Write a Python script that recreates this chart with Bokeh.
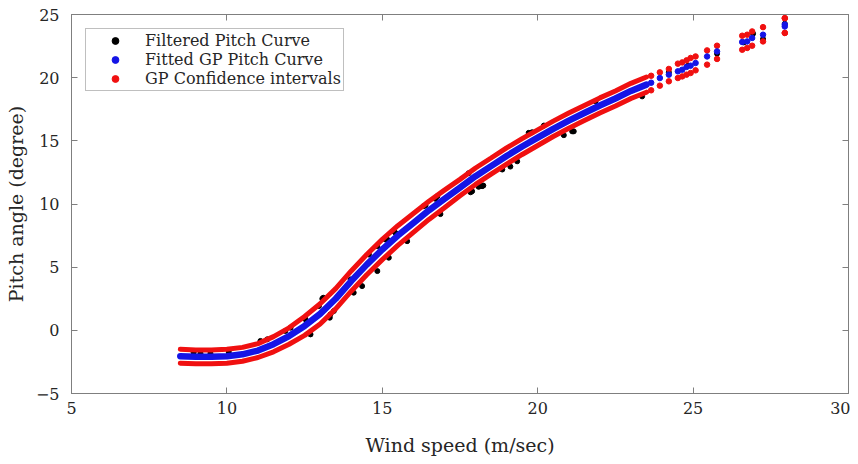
from bokeh.plotting import figure
from bokeh.models import Range1d, LinearAxis, FixedTicker, Legend, LegendItem
from bokeh.embed import file_html
from bokeh.resources import INLINE

# ---- data ----
# dense part of the fitted GP curve and its confidence band (wind speed m/s, pitch deg)
dense_ws = [8.5, 9.0, 9.5, 10.0, 10.5, 11.0, 11.5, 12.0, 12.5, 13.0, 13.5, 14.0, 14.5, 15.0,
            15.5, 16.0, 16.5, 17.0, 17.5, 18.0, 18.5, 19.0, 19.5, 20.0, 20.5, 21.0, 21.5,
            22.0, 22.5, 23.0, 23.5]
dense_fit = [-2.05, -2.1, -2.1, -2.05, -1.9, -1.6, -1.1, -0.45, 0.35, 1.3, 2.5, 3.9, 5.2, 6.4,
             7.5, 8.5, 9.5, 10.4, 11.3, 12.2, 13.0, 13.8, 14.55, 15.25, 15.95, 16.6, 17.2,
             17.8, 18.35, 18.95, 19.45]
dense_upper = [-1.5, -1.55, -1.55, -1.5, -1.35, -1.05, -0.5, 0.2, 1.1, 2.1, 3.3, 4.7, 6.0, 7.2,
               8.28, 9.25, 10.22, 11.1, 11.95, 12.85, 13.64, 14.44, 15.18, 15.87, 16.56, 17.2,
               17.8, 18.4, 18.95, 19.55, 20.05]
dense_lower = [-2.6, -2.65, -2.65, -2.6, -2.45, -2.15, -1.7, -1.1, -0.4, 0.5, 1.7, 3.1, 4.4, 5.6,
               6.72, 7.75, 8.78, 9.7, 10.65, 11.55, 12.36, 13.16, 13.92, 14.63, 15.34, 16.0,
               16.6, 17.2, 17.75, 18.35, 18.85]

# sparse high-wind part (individual points)
sparse_ws = [23.65, 23.93, 24.22, 24.51, 24.65, 24.79, 24.92, 25.08, 25.45, 25.77, 26.58,
             26.74, 26.9, 27.25, 27.95, 27.95]
sparse_fit = [19.6, 19.97, 20.24, 20.5, 20.63, 20.85, 20.95, 21.16, 21.68, 22.08, 22.82,
              22.87, 23.14, 23.4, 24.05, 24.2]
sparse_upper = [20.15, 20.42, 20.69, 21.11, 21.21, 21.37, 21.56, 21.68, 22.16, 22.53, 23.32,
                23.4, 23.66, 24.0, 24.71, 24.71]
sparse_lower = [19.0, 19.37, 19.71, 19.97, 20.1, 20.24, 20.37, 20.58, 21.03, 21.48, 22.21,
                22.35, 22.53, 22.87, 23.54, 23.54]

# filtered (measured) pitch curve points
filt_ws = [8.93, 9.15, 9.47, 10.06, 11.08, 11.3, 11.88, 12.05, 12.53, 12.69, 12.96, 13.07, 13.1,
           13.31, 13.33, 13.44, 13.98, 14.08, 14.35, 14.57, 14.84, 14.84, 15.1, 15.16, 15.21,
           15.37, 15.42, 15.8, 16.33, 16.39, 16.71, 16.77, 16.87, 17.78, 17.84, 17.89, 18.1,
           18.21, 18.25, 18.86, 19.12, 19.34, 19.71, 19.82, 20.2, 20.84, 21.11, 21.16, 21.86,
           23.36, 24.22, 24.83, 25.77, 26.63, 26.93, 27.25, 27.95]
filt_pitch = [-1.76, -1.82, -1.82, -1.72, -0.84, -0.71, -0.05, 0.21, 0.87, -0.32, 1.92, 2.5, 2.58,
              1.0, 1.26, 1.53, 4.03, 2.98, 3.5, 6.0, 6.66, 4.69, 7.19, 7.19, 5.75,
              7.85, 7.72, 7.06, 9.83, 9.88, 10.41, 10.62, 9.2, 12.44, 10.93, 11.01, 11.36,
              11.41, 11.46, 12.73, 12.96, 13.38, 15.63, 15.68, 16.21, 15.45, 15.75, 15.75, 18.13,
              18.52, 20.42, 20.95, 21.9, 22.79, 23.48, 23.06, 24.27]

x_ticks = [5, 10, 15, 20, 25, 30]
y_ticks = [-5, 0, 5, 10, 15, 20, 25]

FONT = "DejaVu Serif"
AX = "#7f7f7f"
TXT = "#262626"
RED = "#f01010"
BLUE = "#1414e6"

p = figure(width=850, height=464, output_backend="svg", toolbar_location=None,
           x_range=Range1d(5, 30), y_range=Range1d(-5, 25),
           min_border_left=71, min_border_right=2, min_border_top=14, min_border_bottom=71)
p.grid.visible = False
p.outline_line_color = AX
p.background_fill_color = "white"
p.border_fill_color = "white"

for ax, ticks in ((p.xaxis[0], x_ticks), (p.yaxis[0], y_ticks)):
    ax.ticker = FixedTicker(ticks=ticks)
    ax.axis_line_color = AX
    ax.major_tick_line_color = AX
    ax.major_tick_in = 6
    ax.major_tick_out = 0
    ax.minor_tick_line_color = None
    ax.major_label_text_font = FONT
    ax.major_label_text_font_size = "16px"
    ax.major_label_text_color = TXT
    ax.axis_label_text_font = FONT
    ax.axis_label_text_font_size = "19px"
    ax.axis_label_text_font_style = "normal"
    ax.axis_label_text_color = TXT

p.xaxis[0].axis_label = "Wind speed (m/sec)"
p.xaxis[0].major_label_standoff = 8
p.xaxis[0].axis_label_standoff = 17
p.yaxis[0].axis_label = "Pitch angle (degree)"
p.yaxis[0].major_label_standoff = 12
p.yaxis[0].axis_label_standoff = 6

for loc, ticks in (("above", x_ticks), ("right", y_ticks)):
    ax = LinearAxis(ticker=FixedTicker(ticks=ticks), axis_line_color=AX,
                    major_tick_line_color=AX, major_tick_in=6, major_tick_out=0,
                    minor_tick_line_color=None, major_label_standoff=0,
                    major_label_overrides={t: "" for t in ticks})
    p.add_layout(ax, loc)

# filtered data (black), underneath
r_black = p.scatter(filt_ws, filt_pitch, size=5, color="black")

# confidence interval (red)
p.line(dense_ws, dense_upper, line_width=5, color=RED, line_cap="round")
p.line(dense_ws, dense_lower, line_width=5, color=RED, line_cap="round")
r_red = p.scatter(sparse_ws, sparse_upper, size=5.5, color=RED)
p.scatter(sparse_ws, sparse_lower, size=5.5, color=RED)

# fitted GP (blue)
p.line(dense_ws, dense_fit, line_width=6.5, color=BLUE, line_cap="round")
r_blue = p.scatter(sparse_ws, sparse_fit, size=5.5, color=BLUE)

legend = Legend(items=[LegendItem(label="Filtered Pitch Curve", renderers=[r_black]),
                       LegendItem(label="Fitted GP Pitch Curve", renderers=[r_blue]),
                       LegendItem(label="GP Confidence intervals", renderers=[r_red])],
                location="top_left")
legend.label_text_font = FONT
legend.label_text_font_size = "16px"
legend.label_text_color = TXT
legend.border_line_color = AX
legend.border_line_width = 1
legend.margin = 14
legend.padding = 2
legend.spacing = 0
legend.label_height = 17
legend.glyph_height = 17
legend.glyph_width = 54
legend.label_standoff = 3
legend.background_fill_alpha = 1
p.add_layout(legend, "center")

open("out.html", "w").write(file_html(p, INLINE))
